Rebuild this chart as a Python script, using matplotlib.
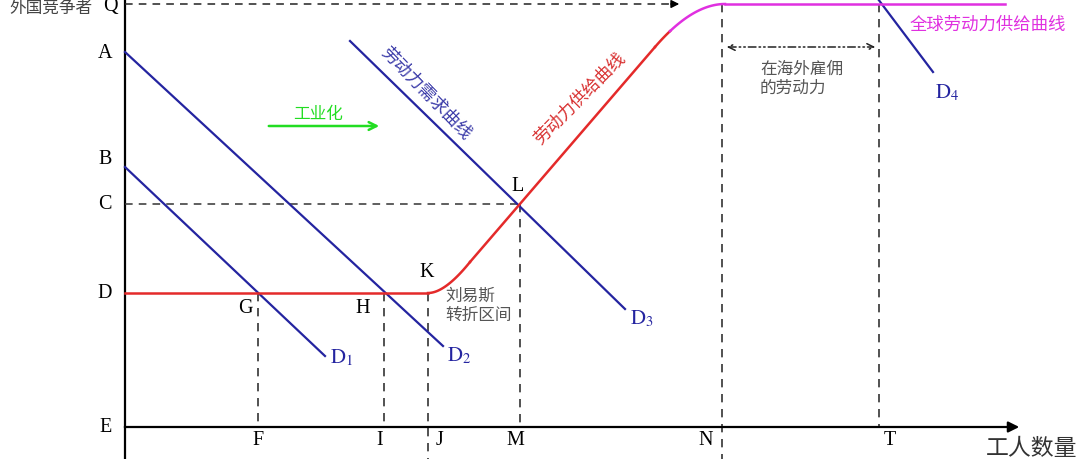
import numpy as np
import matplotlib.pyplot as plt

plt.rcParams['font.family'] = ['Noto Sans CJK SC', 'DejaVu Sans']
plt.rcParams['mathtext.fontset'] = 'stix'

# --- 数据 (像素坐标, y 向下) ---
origin_x, axis_y = 125, 428
level_names = ['A', 'B', 'C', 'D', 'E']
level_y = [53, 160, 205, 294, 428]
q_y = 5

# 需求曲线 D1..D4: (起点, 终点)
demand_names = ['1', '2', '3', '4']
demand_start = [(125, 168), (125, 53), (350, 42), (878, 0)]
demand_end = [(325, 357), (443, 347), (625, 310), (933, 73)]
demand_label_pos = [(330, 357), (447, 355), (630, 318), (935, 92)]

# 劳动力供给曲线的关键点
supply_flat = [(125, 294), (428, 294)]
supply_knee = [(428, 294), (445, 294), (470, 263)]
supply_top = [(655, 48), (692, 5), (725, 5)]
supply_end_x = 1005

# x 轴上的点
x_names = ['F', 'I', 'J', 'M', 'N', 'T']
x_pos = [258, 384, 428, 520, 722, 879]
v_top = [294, 294, 294, 205, 5, 5]
v_bottom = [428, 428, 460, 428, 460, 428]

point_names = ['G', 'H', 'K', 'L']
point_pos = [(245, 309), (363, 309), (427, 273), (518, 187)]

blue = '#2424a0'
red = '#e42a2a'
magenta = '#e030e0'
green = '#22dd22'
gray = '#555555'


def bezier(p0, p1, p2, n=40):
    t = np.linspace(0, 1, n)[:, None]
    p0, p1, p2 = map(np.array, (p0, p1, p2))
    pts = (1 - t) ** 2 * p0 + 2 * (1 - t) * t * p1 + t ** 2 * p2
    return pts[:, 0], pts[:, 1]


fig = plt.figure(figsize=(10.8, 4.6), dpi=100)
ax = fig.add_axes([0, 0, 1, 1])
ax.set_xlim(0, 1080)
ax.set_ylim(460, 0)
ax.axis('off')

# 坐标轴
ax.plot([origin_x, origin_x], [0, 460], color='black', lw=1.6)
ax.annotate('', xy=(1022, axis_y), xytext=(origin_x - 3, axis_y),
            arrowprops=dict(arrowstyle='-|>', color='black', lw=1.6, mutation_scale=16))
ax.text(1077, 449, '工人数量', fontsize=16.5, ha='right', va='center', color='#333333')

# 纵轴标签
for name, y in zip(level_names, level_y):
    ax.text(112, y, name, fontsize=14.5, ha='right', va='center', family='Liberation Serif')
ax.text(118, q_y + 2, 'Q', fontsize=14.5, ha='right', va='center', family='Liberation Serif')
ax.text(92, q_y + 3, '外国竞争者', fontsize=12, ha='right', va='center', color='#444444')

dash = (0, (5, 4))
# 水平虚线
ax.plot([origin_x, 670], [q_y, q_y], color='#222222', lw=1.1, linestyle=dash)
ax.annotate('', xy=(682, q_y), xytext=(668, q_y),
            arrowprops=dict(arrowstyle='-|>', color='black', lw=1, mutation_scale=12))
ax.plot([origin_x, 520], [level_y[2], level_y[2]], color='#333333', lw=1.1, linestyle=dash)

# 垂直虚线
for x, y0, y1 in zip(x_pos, v_top, v_bottom):
    ax.plot([x, x], [y0, y1], color='#333333', lw=1.2, linestyle=dash)

label_dx = [0, -4, 12, -5, -16, 11]
for name, x, dx in zip(x_names, x_pos, label_dx):
    ax.text(x + dx, 441, name, fontsize=14.5, ha='center', va='center', family='Liberation Serif')

for name, (x, y) in zip(point_names, point_pos):
    ax.text(x, y, name, fontsize=14.5, ha='center', va='center', family='Liberation Serif')

# 需求曲线
for name, s, e, lp in zip(demand_names, demand_start, demand_end, demand_label_pos):
    ax.plot([s[0], e[0]], [s[1], e[1]], color=blue, lw=1.6)
    ax.text(lp[0], lp[1], r'$\mathrm{D}_{%s}$' % name, fontsize=15, color=blue,
            ha='left', va='center')

# 供给曲线
kx, ky = bezier(*supply_knee)
tx, ty = bezier(*supply_top)
ax.plot([p[0] for p in supply_flat], [p[1] for p in supply_flat], color=red, lw=1.8)
ax.plot(kx, ky, color=red, lw=1.8)
ax.plot([supply_knee[2][0], supply_top[0][0]], [supply_knee[2][1], supply_top[0][1]],
        color=red, lw=1.8)
split = 8
ax.plot(tx[:split + 1], ty[:split + 1], color=red, lw=1.8)
ax.plot(tx[split:], ty[split:], color=magenta, lw=1.8)
ax.plot([supply_top[2][0], supply_end_x], [q_y, q_y], color=magenta, lw=1.8)

# 曲线上的文字
ax.text(426, 93, '劳动力需求曲线', fontsize=12.5, color='#3a3aa8', rotation=-46,
        ha='center', va='center', rotation_mode='anchor')
ax.text(580, 99, '劳动力供给曲线', fontsize=12.5, color='#d83030', rotation=45,
        ha='center', va='center', rotation_mode='anchor')
ax.text(988, 25, '全球劳动力供给曲线', fontsize=12.5, color=magenta, ha='center', va='center')

# 工业化箭头
ax.text(318, 114, '工业化', fontsize=12, color=green, ha='center', va='center')
ax.annotate('', xy=(382, 127), xytext=(266, 127),
            arrowprops=dict(arrowstyle='->', color=green, lw=1.8, mutation_scale=14))

# 刘易斯转折区间
ax.text(445, 306, '刘易斯\n转折区间', fontsize=12, color=gray, ha='left', va='center',
        linespacing=1.2)

# 海外雇佣
ax.annotate('', xy=(878, 48), xytext=(724, 48),
            arrowprops=dict(arrowstyle='<->', color='#222222', lw=1.1,
                            linestyle=(0, (5, 2, 1, 2, 1, 2)), mutation_scale=12))
ax.text(760, 79, '在海外雇佣\n的劳动力', fontsize=12, color=gray, ha='left', va='center',
        linespacing=1.2)

fig.savefig('out.png', dpi=100)
